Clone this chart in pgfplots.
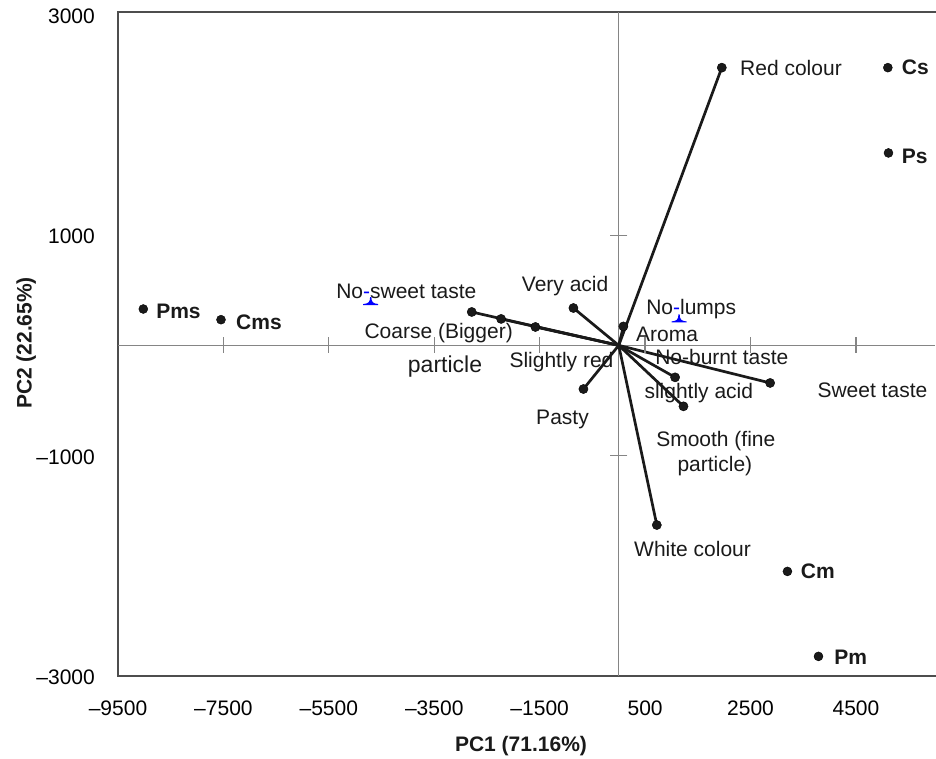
\documentclass[border=0pt]{standalone}
\usepackage{pgfplots}
\pgfplotsset{compat=1.18}
\usepackage{fontspec}
\setmainfont{Liberation Sans}
\definecolor{framec}{HTML}{4D4D4D}
\definecolor{crossc}{HTML}{858585}
\definecolor{linec}{HTML}{1A1A1A}
\newcommand{\lbl}{\fontsize{21}{25}\selectfont}
\newcommand{\lblbig}{\fontsize{23}{27}\selectfont}
\pgfdeclareplotmark{spike}{%
 \pgfpathmoveto{\pgfqpoint{-7.5pt}{-1pt}}
 \pgfpathlineto{\pgfqpoint{-7.5pt}{0pt}}
 \pgfpathcurveto{\pgfqpoint{-2pt}{0.5pt}}{\pgfqpoint{-0.8pt}{2pt}}{\pgfqpoint{-0.6pt}{7pt}}
 \pgfpathlineto{\pgfqpoint{0.6pt}{7pt}}
 \pgfpathcurveto{\pgfqpoint{0.8pt}{2pt}}{\pgfqpoint{2pt}{0.5pt}}{\pgfqpoint{7.5pt}{0pt}}
 \pgfpathlineto{\pgfqpoint{7.5pt}{-1pt}}
 \pgfpathclose
 \pgfusepathqfill}
\begin{document}
\begin{tikzpicture}
\useasboundingbox (-118pt,-83pt) rectangle (818pt,676pt);
\begin{axis}[
 at={(0pt,0pt)}, anchor=south west, scale only axis,
 width=817pt, height=664pt,
 xmin=-9500, xmax=6000, ymin=-3000, ymax=3025,
 axis line style={draw=none},
 tick style={draw=none},
 major tick length=0pt,
 xtick={-9500,-7500,-5500,-3500,-1500,500,2500,4500},
 xticklabels={--9500,--7500,--5500,--3500,--1500,500,2500,4500},
 ytick={-3000,-1000,1000,3000},
 yticklabels={--3000,--1000,1000,3000},
 xticklabel style={font=\lbl, inner sep=0pt, anchor=north, yshift=-25pt},
 yticklabel style={font=\lbl, inner sep=0pt, anchor=east, xshift=-23pt, yshift=-1.5pt},
 clip=false,
]
% frame (no right side)
\draw[framec, line width=1.5pt] (rel axis cs:1.003,1) -- (rel axis cs:0,1) -- (rel axis cs:0,0) -- (rel axis cs:1.003,0);
% crosshair
\draw[crossc, line width=1.4pt] (axis cs:-9500,0) -- (axis cs:6000,0);
\draw[crossc, line width=1.4pt] (axis cs:0,-3000) -- (axis cs:0,3025);
\addplot[crossc, only marks, mark=|, mark size=8pt, mark options={line width=1.3pt}] coordinates {(-7500,0) (-5500,0) (-3500,0) (-1500,0) (500,0) (2500,0) (4500,0)};
\addplot[crossc, only marks, mark=-, mark size=8.5pt, mark options={line width=1.3pt}] coordinates {(0,1000) (0,-1000)};
% loading vectors
\addplot[linec, line width=2.7pt, no marks] coordinates {(0,0) (1955,2520)};
\addplot[linec, line width=2.7pt, no marks] coordinates {(0,0) (-860,339)};
\addplot[linec, line width=2.7pt, no marks] coordinates {(0,0) (88,172)};
\addplot[linec, line width=2.7pt, no marks] coordinates {(0,0) (-2789,303)};
\addplot[linec, line width=2.7pt, no marks] coordinates {(0,0) (-2232,240)};
\addplot[linec, line width=2.7pt, no marks] coordinates {(0,0) (-1581,167)};
\addplot[linec, line width=2.7pt, no marks] coordinates {(0,0) (-670,-396)};
\addplot[linec, line width=2.7pt, no marks] coordinates {(0,0) (1069,-290)};
\addplot[linec, line width=2.7pt, no marks] coordinates {(0,0) (1228,-553)};
\addplot[linec, line width=2.7pt, no marks] coordinates {(0,0) (2872,-341)};
\addplot[linec, line width=2.7pt, no marks] coordinates {(0,0) (722,-1630)};
\addplot[only marks, mark=*, mark size=4.6pt, mark options={fill=linec, draw=none}] coordinates {
 (1955,2520) (-860,339) (88,172) (-2789,303) (-2232,240) (-1581,167)
 (-670,-396) (1069,-290) (1228,-553) (2872,-341) (722,-1630)};
% samples
\addplot[only marks, mark=*, mark size=4.5pt, mark options={fill=linec, draw=none}] coordinates {
 (-9020,330) (-7546,233) (5105,2520) (5117,1746) (3200,-2051) (3789,-2822)};
% blue markers
\addplot[only marks, mark=spike, blue] coordinates {(-4705,375) (1144,217)};
% labels
\tikzset{lb/.style={anchor=base west, inner sep=0pt, font=\lbl, text=linec}}
\node[lb] at (axis cs:2301,2445) {Red colour};
\node[lb, font=\lbl\bfseries] at (axis cs:5369,2454) {Cs};
\node[lb, font=\lbl\bfseries] at (axis cs:5369,1652) {Ps};
\node[lb, font=\lbl\bfseries] at (axis cs:-8778,246) {Pms};
\node[lb, font=\lbl\bfseries] at (axis cs:-7261,140) {Cms};
\node[lb, font=\lbl\bfseries] at (axis cs:3453,-2113) {Cm};
\node[lb, font=\lbl\bfseries] at (axis cs:4085,-2897) {Pm};
\node[lb] at (axis cs:290,-1917) {White colour};
\node[lb] at (axis cs:708,-919) {Smooth (fine};
\node[lb] at (axis cs:1112,-1146) {particle)};
\node[lb] at (axis cs:3768,-471) {Sweet taste};
\node[lb] at (axis cs:486,-480) {slightly acid};
\node[lb] at (axis cs:689,-178) {No-burnt taste};
\node[lb] at (axis cs:518,276) {No\textcolor{blue}{-}lumps};
\node[lb] at (axis cs:328,34) {Aroma};
\node[lb] at (axis cs:-2076,-199) {Slightly red};
\node[lb, font=\lblbig] at (axis cs:-4003,-244) {particle};
\node[lb] at (axis cs:-4826,58) {Coarse (Bigger)};
\node[lb] at (axis cs:-1840,487) {Very acid};
\node[lb] at (axis cs:-5363,427) {No\textcolor{blue}{-}sweet taste};
\node[lb] at (axis cs:-1569,-722) {Pasty};
\end{axis}
\node[anchor=base, inner sep=0pt, font=\lbl\bfseries, text=linec] at (403pt,-76pt) {PC1 (71.16\%)};
\node[anchor=base, inner sep=0pt, rotate=90, font=\lbl\bfseries, text=linec] at (-86.3pt,333pt) {PC2 (22.65\%)};
\end{tikzpicture}
\end{document}
